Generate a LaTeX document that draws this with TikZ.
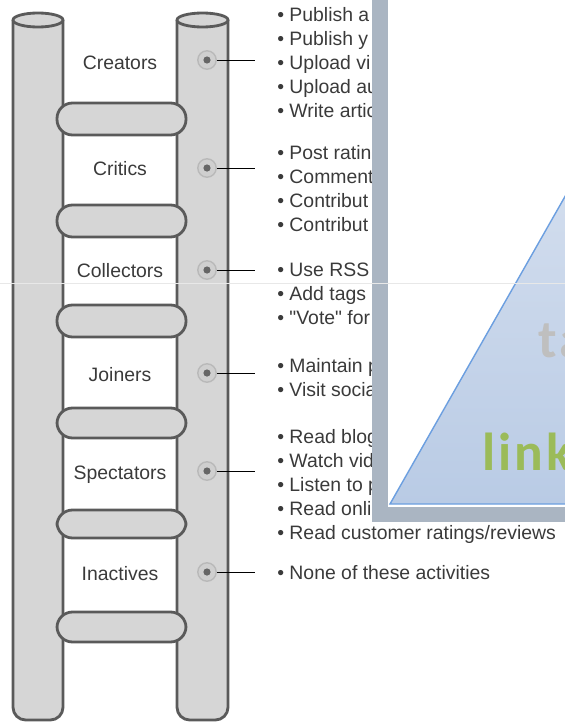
\documentclass[tikz,border=0pt]{standalone}
\usepackage{fontspec}
\setmainfont{Liberation Sans}
\newfontfamily\slidefont[LetterSpace=6]{Carlito}
\definecolor{railgray}{HTML}{D6D6D6}
\definecolor{edgegray}{HTML}{5A5A5A}
\definecolor{inkgray}{HTML}{3A3A3A}
\definecolor{framegray}{HTML}{AAB5C2}
\definecolor{skyedge}{HTML}{6C9FE0}
\definecolor{skytop}{HTML}{D6E0EF}
\definecolor{skybottom}{HTML}{B9CBE5}
\definecolor{leafgreen}{HTML}{9BBB59}
\definecolor{taggray}{HTML}{BFBFBF}
\tikzset{%
    rail/.style={fill=railgray,draw=edgegray,line width=2pt},
    rung/.style={rail,rounded corners=11pt},
    level/.style={font=\fontsize{13.8}{16.9}\selectfont,text=inkgray,inner sep=0pt,anchor=base},
    items/.style={font=\fontsize{13.8}{16.9}\selectfont,text=inkgray,inner sep=0pt,anchor=base west,align=left},
    dot/.style={circle,inner sep=0pt,minimum size=4.6mm,fill=gray!38,draw=gray!55,line width=1pt,
        path picture={\fill[gray!80!black] (path picture bounding box.center) circle (0.9mm);}},
    leader/.style={thin,black},
    slide/.style={inner sep=0pt,anchor=base west,font=\slidefont\bfseries\fontsize{38}{40}\selectfont},
}

\begin{document}
\begin{tikzpicture}[x=0.025cm,y=-0.025cm]
    \useasboundingbox (0,0) rectangle (565,723);

    %lestev
    \draw[rail,rounded corners=9pt] (13,20) -- (13,720) -- (63,720) -- (63,20);
    \draw[rail] (38,20) ellipse (25 and 7);
    \draw[rail,rounded corners=9pt] (177,20) -- (177,720) -- (228,720) -- (228,20);
    \draw[rail] (202.5,20) ellipse (25.5 and 7);

    %precke
    \draw[rung] (57,103) rectangle (186,135);
    \draw[rung] (57,205) rectangle (186,237);
    \draw[rung] (57,305) rectangle (186,337);
    \draw[rung] (57,408) rectangle (186,438);
    \draw[rung] (57,510) rectangle (186,538);
    \draw[rung] (57,612) rectangle (186,642);

    %stopnje
    \node[level] (creators) at (120,69) {Creators};
    \node[level] (critics) at (120,175) {Critics};
    \node[level] (collectors) at (120,277) {Collectors};
    \node[level] (joiners) at (120,381) {Joiners};
    \node[level] (spectators) at (120,479) {Spectators};
    \node[level] (inactives) at (120,580) {Inactives};

    %pike
    \coordinate (tip) at (255,0);
    \node[dot] (d1) at (207,60) {};
    \node[dot] (d2) at (207,168) {};
    \node[dot] (d3) at (207,270) {};
    \node[dot] (d4) at (207,373) {};
    \node[dot] (d5) at (207,471) {};
    \node[dot] (d6) at (207,572) {};
    \draw[leader] (d1.east) -- (d1.east -| tip);
    \draw[leader] (d2.east) -- (d2.east -| tip);
    \draw[leader] (d3.east) -- (d3.east -| tip);
    \draw[leader] (d4.east) -- (d4.east -| tip);
    \draw[leader] (d5.east) -- (d5.east -| tip);
    \draw[leader] (d6.east) -- (d6.east -| tip);

    %dejavnosti (zadnja vrstica na osnovni crti)
    \node[items] (l1) at (277,117) {• Publish a\\• Publish y\\• Upload vi\\• Upload au\\• Write artic};
    \node[items] (l2) at (277,231) {• Post ratin\\• Comment\\• Contribut\\• Contribut};
    \node[items] (l3) at (277,324.5) {• Use RSS\\• Add tags\\• \textquotedbl Vote\textquotedbl\ for};
    \node[items] (l4) at (277,396) {• Maintain p\\• Visit socia};
    \node[items] (l5) at (277,539) {• Read blog\\• Watch vid\\• Listen to p\\• Read onli\\• Read customer ratings/reviews};
    \node[items] (l6) at (277,579) {• None of these activities};

    %slika
    \fill[framegray] (372,0) rectangle (565,522);
    \fill[white] (388,0) rectangle (565,507);
    \begin{scope}
        \clip (388,0) rectangle (565,507);
        \draw[skyedge,line width=1pt,top color=skytop,bottom color=skybottom] (390,504) -- (600,135) -- (810,504) -- cycle;
        \node[slide,text=taggray] (ta) at (538,357) {ta};
        \node[slide,text=leafgreen] (link) at (482,470) {link};
    \end{scope}
    \draw[gray!18,line width=0.4pt] (0,283) -- (565,283);
\end{tikzpicture}
\end{document}
